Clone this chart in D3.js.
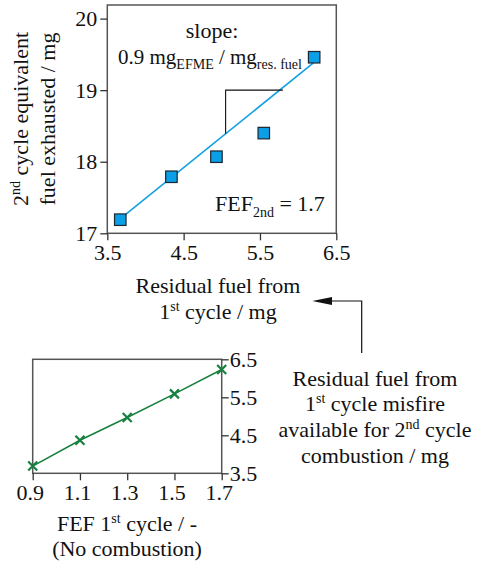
<!DOCTYPE html>
<html><head><meta charset="utf-8">
<script src="https://cdn.jsdelivr.net/npm/d3@7"></script>
<style>body{margin:0;background:#fff;}</style></head>
<body><svg id="c" width="483" height="563" font-family="Liberation Serif"></svg>
<script>
// ---- data ----
const topTicksX = [3.5, 4.5, 5.5, 6.5];
const topTicksY = [17, 18, 19, 20];
const residualX = [3.67, 4.34, 4.93, 5.55, 6.21];
const exhaustedY = [17.19, 17.79, 18.07, 18.40, 19.46];
const fitX = [3.70, 6.20];
const fitY = [17.23, 19.38];
const slopeX = [5.05, 5.05, 5.80];
const slopeY = [18.39, 19.0, 19.0];
const botTicksX = [0.9, 1.1, 1.3, 1.5, 1.7];
const botTicksY = [3.5, 4.5, 5.5, 6.5];
const fef1 = [0.9, 1.1, 1.3, 1.5, 1.7];
const residualAvail = [3.69, 4.37, 4.97, 5.59, 6.23];

const svg = d3.select("#c");
const FS = 22, SUB = 14, FONT = "Liberation Serif", INK = "#111";
function T(g){ return g.append("text").attr("font-family",FONT).attr("font-size",FS).attr("fill",INK); }

// ---- top plot ----
const tx = d3.scaleLinear().domain([3.5, 6.5]).range([107.3, 336.3]);
const ty = d3.scaleLinear().domain([17, 20.19]).range([233.3, 5]);
const gTop = svg.append("g");
gTop.append("rect").attr("x", tx.range()[0]).attr("y", ty.range()[1])
  .attr("width", tx.range()[1]-tx.range()[0]).attr("height", ty.range()[0]-ty.range()[1])
  .attr("fill","none").attr("stroke","#555").attr("stroke-width",1.5);

function styleAxis(g){
  g.attr("font-family",FONT);
  g.select(".domain").remove();
  g.selectAll(".tick line").attr("stroke","#333").attr("stroke-width",1.3);
  g.selectAll(".tick text").attr("font-size",FS).attr("fill",INK).attr("font-family",FONT);
}
gTop.append("g").attr("transform",`translate(0,${ty(17)})`)
  .call(d3.axisBottom(tx).tickValues(topTicksX).tickFormat(d3.format(".1f")).tickSize(7).tickPadding(4))
  .call(styleAxis);
gTop.append("g").attr("transform",`translate(${tx(3.5)},0)`)
  .call(d3.axisLeft(ty).tickValues(topTicksY).tickFormat(d3.format("d")).tickSize(7).tickPadding(3))
  .call(styleAxis);

// fit line
gTop.append("path").datum(fitX.map((x,i)=>[x,fitY[i]]))
  .attr("d", d3.line().x(d=>tx(d[0])).y(d=>ty(d[1])))
  .attr("fill","none").attr("stroke","#14a0e2").attr("stroke-width",1.6);
// slope triangle
gTop.append("path").datum(slopeX.map((x,i)=>[x,slopeY[i]]))
  .attr("d", d3.line().x(d=>tx(d[0])).y(d=>ty(d[1])))
  .attr("fill","none").attr("stroke",INK).attr("stroke-width",1.1);
// markers
const ms = 11.5;
gTop.selectAll("rect.pt").data(residualX.map((x,i)=>[x,exhaustedY[i]])).enter()
  .append("rect").attr("class","pt")
  .attr("x", d=>tx(d[0])-ms/2).attr("y", d=>ty(d[1])-ms/2)
  .attr("width",ms).attr("height",ms)
  .attr("fill","#0a9fe6").attr("stroke","#1a2630").attr("stroke-width",1.2);

// annotations
T(gTop).attr("x",212).attr("y",38).attr("text-anchor","middle").text("slope:");
const s2 = T(gTop).attr("x",118).attr("y",64).attr("font-size",21);
s2.append("tspan").text("0.9 mg");
s2.append("tspan").attr("font-size",SUB).attr("dy",5).text("EFME");
s2.append("tspan").attr("dy",-5).text(" / mg");
s2.append("tspan").attr("font-size",SUB).attr("dy",5).text("res. fuel");
const f2 = T(gTop).attr("x",215).attr("y",211);
f2.append("tspan").text("FEF");
f2.append("tspan").attr("font-size",SUB).attr("dy",6).text("2nd");
f2.append("tspan").attr("dy",-6).text(" = 1.7");

// y title
const yt = gTop.append("g").attr("transform","translate(0,119) rotate(-90)");
const y1 = T(yt).attr("x",0).attr("y",28).attr("text-anchor","middle");
y1.append("tspan").text("2");
y1.append("tspan").attr("font-size",SUB).attr("dy",-8).text("nd");
y1.append("tspan").attr("dy",8).text(" cycle equivalent");
T(yt).attr("x",0).attr("y",55).attr("text-anchor","middle").text("fuel exhausted / mg");

// x title
T(gTop).attr("x",218).attr("y",293).attr("text-anchor","middle").text("Residual fuel from");
const x2 = T(gTop).attr("x",218).attr("y",319).attr("text-anchor","middle");
x2.append("tspan").text("1");
x2.append("tspan").attr("font-size",SUB).attr("dy",-8).text("st");
x2.append("tspan").attr("dy",8).text(" cycle / mg");

// ---- bottom plot ----
const bx = d3.scaleLinear().domain([0.9, 1.7]).range([32.7, 221.7]);
const by = d3.scaleLinear().domain([3.5, 6.5]).range([473.3, 359.3]);
const gBot = svg.append("g");
gBot.append("rect").attr("x", bx.range()[0]).attr("y", by.range()[1])
  .attr("width", bx.range()[1]-bx.range()[0]).attr("height", by.range()[0]-by.range()[1])
  .attr("fill","none").attr("stroke","#555").attr("stroke-width",1.5);
const bxa = gBot.append("g").attr("transform",`translate(0,${by(3.5)})`)
  .call(d3.axisBottom(bx).tickValues(botTicksX).tickFormat(d3.format(".1f")).tickSize(7).tickPadding(4))
  .call(styleAxis);
bxa.selectAll(".tick text").attr("dx",-3);
gBot.append("g").attr("transform",`translate(${bx(1.7)},0)`)
  .call(d3.axisRight(by).tickValues(botTicksY).tickFormat(d3.format(".1f")).tickSize(7).tickPadding(1))
  .call(styleAxis);

const green = "#17813e";
gBot.append("path").datum(fef1.map((x,i)=>[x,residualAvail[i]]))
  .attr("d", d3.line().x(d=>bx(d[0])).y(d=>by(d[1])))
  .attr("fill","none").attr("stroke",green).attr("stroke-width",1.6);
const cs = 4.5;
gBot.selectAll("path.x").data(fef1.map((x,i)=>[x,residualAvail[i]])).enter()
  .append("path").attr("class","x")
  .attr("d", d=>{const X=bx(d[0]),Y=by(d[1]);return `M${X-cs},${Y-cs}L${X+cs},${Y+cs}M${X-cs},${Y+cs}L${X+cs},${Y-cs}`;})
  .attr("stroke",green).attr("stroke-width",2.2).attr("fill","none");

const b1 = T(gBot).attr("x",127).attr("y",531).attr("text-anchor","middle");
b1.append("tspan").text("FEF 1");
b1.append("tspan").attr("font-size",SUB).attr("dy",-8).text("st");
b1.append("tspan").attr("dy",8).text(" cycle / -");
T(gBot).attr("x",127).attr("y",556).attr("text-anchor","middle").text("(No combustion)");

// ---- right label + arrow ----
const rl = svg.append("g");
const rx = 375;
T(rl).attr("x",rx).attr("y",386).attr("text-anchor","middle").text("Residual fuel from");
const r2 = T(rl).attr("x",rx).attr("y",411).attr("text-anchor","middle");
r2.append("tspan").text("1");
r2.append("tspan").attr("font-size",SUB).attr("dy",-8).text("st");
r2.append("tspan").attr("dy",8).text(" cycle misfire");
const r3 = T(rl).attr("x",rx).attr("y",437).attr("text-anchor","middle");
r3.append("tspan").text("available for 2");
r3.append("tspan").attr("font-size",SUB).attr("dy",-8).text("nd");
r3.append("tspan").attr("dy",8).text(" cycle");
T(rl).attr("x",rx).attr("y",463).attr("text-anchor","middle").text("combustion / mg");

rl.append("path").attr("d","M361.7,353V301H328").attr("fill","none").attr("stroke",INK).attr("stroke-width",1.2);
rl.append("path").attr("d","M312.3,301L332,297L332,305Z").attr("fill",INK);
</script></body></html>
